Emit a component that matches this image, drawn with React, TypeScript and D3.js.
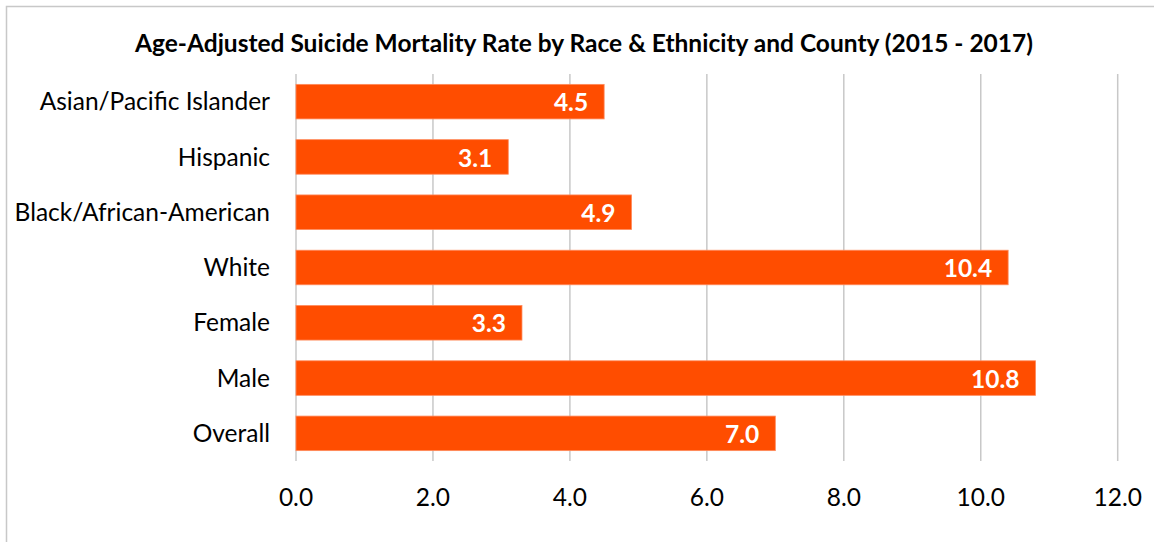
import React from "react";
import * as d3 from "d3";

const categories = ["Asian/Pacific Islander", "Hispanic", "Black/African-American", "White", "Female", "Male", "Overall"];
const values = [4.5, 3.1, 4.9, 10.4, 3.3, 10.8, 7.0];
const xTicks = [0, 2, 4, 6, 8, 10, 12];
const title = "Age-Adjusted Suicide Mortality Rate by Race & Ethnicity and County (2015 - 2017)";

const W = 1154, H = 542;
const FONT = "Lato, 'Open Sans', sans-serif";

export default function App() {
  const x = d3.scaleLinear().domain([0, 12]).range([296, 1117.7]);
  const y = d3.scaleBand<string>().domain(categories).range([74, 461]).paddingInner(0.375).paddingOuter(0.1875);
  return (
    <svg width={W} height={H} style={{ position: "absolute", left: 0, top: 0, background: "#fff" }}>
      <rect x={6.5} y={6.5} width={W + 10} height={H + 10} fill="#fff" stroke="#c8c8c8" strokeWidth={1.5} />
      <text x={584} y={52} textAnchor="middle" fontFamily={FONT} fontWeight="bold" fontSize={24.5} fill="#000">{title}</text>
      {xTicks.map((t) => (
        <line key={t} x1={x(t)} x2={x(t)} y1={74} y2={461} stroke="#c8c8c8" strokeWidth={1.5} />
      ))}
      {categories.map((c, i) => (
        <g key={c}>
          <rect x={x(0)} y={y(c)!} width={x(values[i]) - x(0)} height={y.bandwidth()} fill="#FF4D00" stroke="#FF8A5C" strokeWidth={0.8} />
          <text x={x(values[i]) - 16} y={y(c)! + y.bandwidth() / 2 + 1} dy="0.35em" textAnchor="end" fontFamily={FONT} fontWeight="bold" fontSize={24.5} fill="#fff">{values[i].toFixed(1)}</text>
          <text x={270} y={y(c)! + y.bandwidth() / 2} dy="0.35em" textAnchor="end" fontFamily={FONT} fontSize={24.5} fill="#000">{c}</text>
        </g>
      ))}
      {xTicks.map((t) => (
        <text key={t} x={x(t)} y={497} dy="0.35em" textAnchor="middle" fontFamily={FONT} fontSize={24.5} fill="#000">{t.toFixed(1)}</text>
      ))}
    </svg>
  );
}
